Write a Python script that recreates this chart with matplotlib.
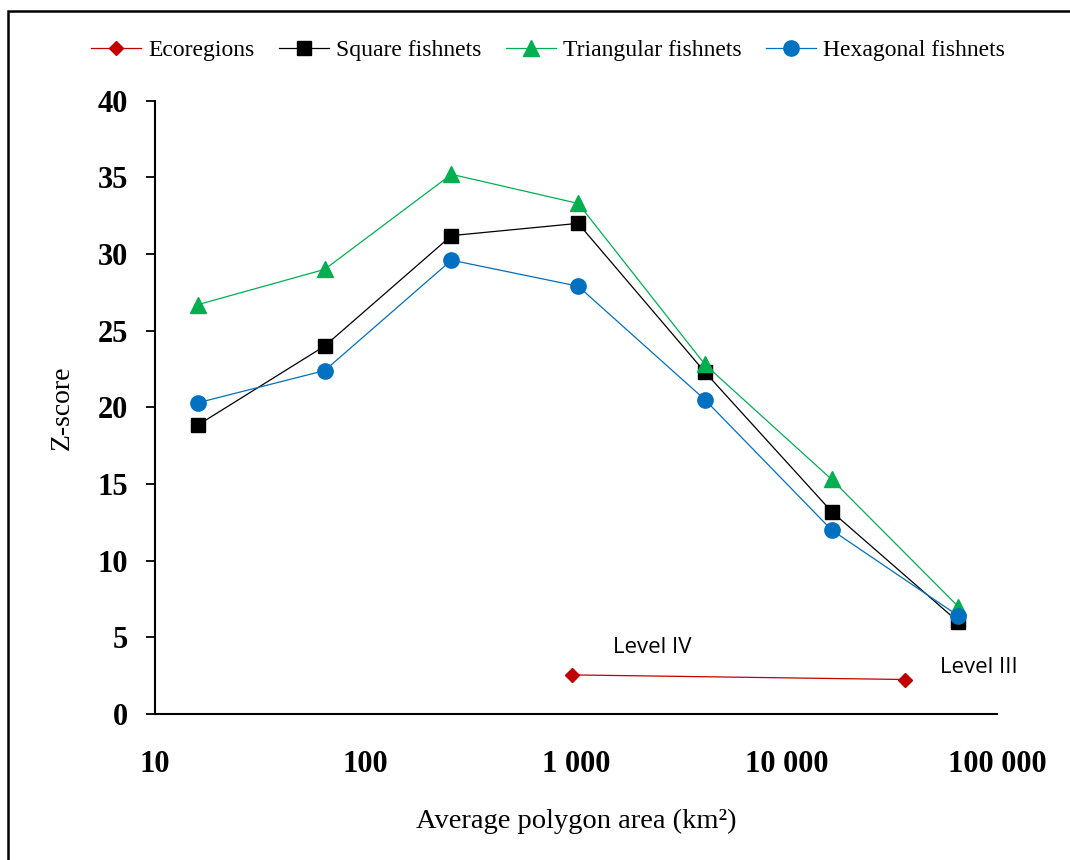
import matplotlib
matplotlib.use("Agg")
import matplotlib.pyplot as plt
from matplotlib.patches import Rectangle

plt.rcParams['font.family'] = ['Liberation Serif', 'DejaVu Serif']

# cell areas (km2) for the fishnets
fishnet_area = [16, 64, 256, 1024, 4096, 16384, 65536]
square_z = [18.85, 24.0, 31.2, 32.0, 22.3, 13.2, 6.0]
triangular_z = [26.7, 29.0, 35.2, 33.3, 22.8, 15.3, 7.0]
hexagonal_z = [20.3, 22.4, 29.6, 27.9, 20.5, 12.0, 6.4]

# ecoregions (level IV, level III)
eco_area = [960, 36600]
eco_z = [2.55, 2.25]
eco_labels = ['Level IV', 'Level III']

x_ticks = [10, 100, 1000, 10000, 100000]
x_ticklabels = ['10', '100', '1 000', '10 000', '100 000']
y_ticks = [0, 5, 10, 15, 20, 25, 30, 35, 40]

fig = plt.figure(figsize=(10.7, 8.6), dpi=100)
ax = fig.add_axes([155/1070, 1 - 714/860, 842/1070, 613.3/860])

ax.plot(eco_area, eco_z, color='#C00000', lw=0.9, marker='D', ms=7.5, label='Ecoregions')
ax.plot(fishnet_area, square_z, color='black', lw=0.9, marker='s', ms=10, label='Square fishnets')
ax.plot(fishnet_area, triangular_z, color='#00B050', lw=0.9, marker='^', ms=11, label='Triangular fishnets')
ax.plot(fishnet_area, hexagonal_z, color='#0070C0', lw=0.9, marker='o', ms=11, label='Hexagonal fishnets')

# Level labels next to the ecoregion points
offsets = [(29, 19.5), (25, 8.5)]
for xa, ya, lab, off in zip(eco_area, eco_z, eco_labels, offsets):
    ax.annotate(lab, (xa, ya), xytext=off, textcoords='offset points',
                ha='left', va='center', fontsize=16, family=['Open Sans', 'DejaVu Sans'])

ax.set_xscale('log')
ax.set_xlim(10, 100000)
ax.set_ylim(0, 40)
ax.set_xticks(x_ticks)
ax.set_xticklabels(x_ticklabels)
ax.minorticks_off()
ax.set_yticks(y_ticks)

for lab in ax.get_xticklabels() + ax.get_yticklabels():
    lab.set_fontweight('bold')
    lab.set_fontsize(22)
ax.tick_params(axis='x', length=0, pad=26)
ax.tick_params(axis='y', length=6.5, width=1.3, pad=13, direction='out')

for s in ['top', 'right']:
    ax.spines[s].set_visible(False)
for s in ['left', 'bottom']:
    ax.spines[s].set_linewidth(1.5)

ax.set_xlabel('Average polygon area (km²)', fontsize=20.5)
ax.xaxis.set_label_coords(0.5, -0.155)
ax.set_ylabel('Z-score', fontsize=20)
ax.yaxis.set_label_coords(-0.095, 0.5)

fig.legend(loc='center', bbox_to_anchor=(548/1070, 1 - 50/860), ncol=4,
           frameon=False, fontsize=17, handlelength=2.1, handletextpad=0.3,
           columnspacing=1.05)

# frame around the figure (open on the right and bottom)
fig.patches.append(Rectangle((8/1070, -0.1), 1.2, 1.1 - 11/860, transform=fig.transFigure,
                             fill=False, lw=1.8, edgecolor='black'))

fig.savefig('out.png', dpi=100)
